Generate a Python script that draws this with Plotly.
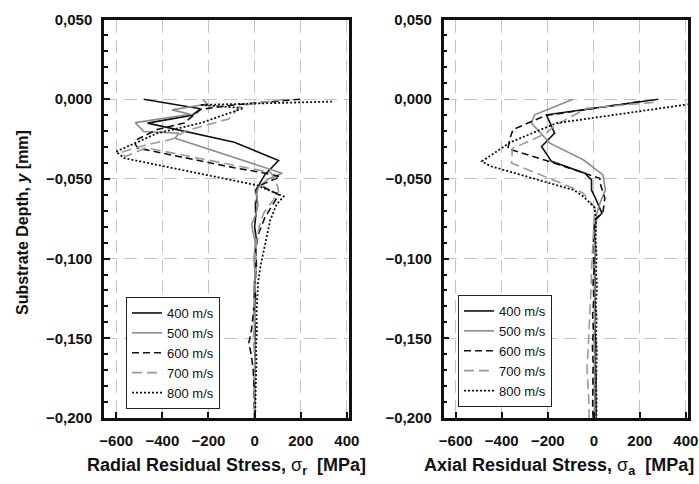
import plotly.graph_objects as go

# ---- Radial residual stress profiles (depth in mm, stress in MPa) ----
r400_depth = [0, -0.006, -0.010, -0.015, -0.027, -0.0385, -0.047, -0.053, -0.057, -0.062, -0.066,
              -0.072, -0.080, -0.088, -0.095, -0.105, -0.115, -0.125, -0.135, -0.145, -0.155,
              -0.165, -0.175, -0.185, -0.195, -0.200]
r400_stress = [-481, -235, -270, -464, -88, 104, 46, 22, 5, 10, 4, 6, 0, 8, 3, 5, 0, 4, -2, 3, 0,
               2, -1, 1, 0, 0]

r500_depth = [0, -0.003, -0.0067, -0.0094, -0.0147, -0.0203, -0.0213, -0.0245, -0.0464, -0.050,
              -0.055, -0.060, -0.066, -0.072, -0.078, -0.083, -0.090, -0.100, -0.110, -0.120,
              -0.130, -0.140, -0.150, -0.160, -0.170, -0.180, -0.190, -0.200]
r500_stress = [-225, -205, -358, -279, -517, -481, -330, -344, 119, 60, 17, 8, 15, 6, -12, -8, 4,
               -3, 2, -4, 3, -1, 0, 2, -1, 1, 0, 0]

r600_depth = [0, -0.0036, -0.0063, -0.0149, -0.019, -0.025, -0.0275, -0.0307, -0.043, -0.0464,
              -0.0486, -0.054, -0.060, -0.066, -0.074, -0.085, -0.095, -0.105, -0.115, -0.125,
              -0.135, -0.145, -0.153, -0.160, -0.170, -0.180, -0.190, -0.200]
r600_stress = [198, -88, -232, -305, -422, -507, -520, -507, -88, 46, 111, 25, 105, 80, 45, 15, 5,
               8, 3, 0, -6, -14, -25, -15, -6, -3, 0, 0]

r700_depth = [0, -0.004, -0.0125, -0.014, -0.020, -0.025, -0.029, -0.0335, -0.036, -0.0305, -0.046,
              -0.052, -0.058, -0.063, -0.0715, -0.080, -0.090, -0.100, -0.110, -0.120, -0.130,
              -0.140, -0.150, -0.160, -0.170, -0.180, -0.190, -0.200]
r700_stress = [130, -60, -113, -156, -300, -357, -478, -582, -560, -470, 70, 95, 104, 82, 39, 20, 8,
               2, 6, 0, -4, 2, -6, 0, 3, -2, 0, 1]

r800_depth = [-0.0015, -0.0036, -0.0056, -0.015, -0.0213, -0.0329, -0.037, -0.054, -0.061, -0.066,
              -0.0757, -0.085, -0.0966, -0.105, -0.115, -0.125, -0.135, -0.145, -0.155, -0.165,
              -0.175, -0.185, -0.195, -0.200]
r800_stress = [336, -235, -48, -235, -421, -601, -565, 10, 126, 95, 68, 55, 39, 25, 15, 12, 8, 10,
               6, 8, 5, 4, 3, 2]

# ---- Axial residual stress profiles ----
a400_depth = [0, -0.0098, -0.0213, -0.0297, -0.039, -0.0464, -0.0506, -0.057, -0.063, -0.0715,
              -0.0757, -0.085, -0.095, -0.105, -0.115, -0.125, -0.135, -0.145, -0.155, -0.165,
              -0.175, -0.185, -0.195, -0.200]
a400_stress = [280, -206, -170, -227, -184, -39, -10, -10, 10, 35, 8, 4, 8, 2, 6, 4, 8, 5, 9, 6, 10,
               8, 10, 9]

a500_depth = [0, -0.0098, -0.015, -0.0213, -0.0276, -0.038, -0.0475, -0.057, -0.064, -0.072, -0.080,
              -0.090, -0.100, -0.110, -0.120, -0.130, -0.140, -0.150, -0.160, -0.170, -0.180,
              -0.190, -0.200]
a500_stress = [-90, -257, -271, -232, -191, -46, 40, 50, 30, 12, 8, 4, 6, 2, 5, 3, 6, 2, 4, 3, 5, 4, 5]

a600_depth = [-0.0015, -0.0103, -0.019, -0.025, -0.031, -0.040, -0.0496, -0.054, -0.062, -0.0705,
              -0.076, -0.085, -0.095, -0.105, -0.115, -0.125, -0.135, -0.145, -0.155, -0.165,
              -0.175, -0.185, -0.195, -0.200]
a600_stress = [200, -210, -351, -365, -373, -174, 26, 30, 48, 40, 4, 0, -4, 2, -3, 0, -5, -2, -6, -3,
               -4, -2, -5, -3]

a700_depth = [-0.002, -0.0057, -0.017, -0.021, -0.0255, -0.031, -0.038, -0.040, -0.056, -0.059,
              -0.068, -0.078, -0.088, -0.098, -0.108, -0.118, -0.128, -0.138, -0.148, -0.158,
              -0.168, -0.178, -0.188, -0.200]
a700_stress = [260, -32, -174, -203, -268, -355, -355, -358, -87, -46, 4, 0, -5, -8, -10, -12, -15,
               -18, -20, -25, -30, -25, -22, -20]

a800_depth = [-0.0028, -0.015, -0.027, -0.039, -0.042, -0.057, -0.061, -0.068, -0.078, -0.088,
              -0.098, -0.108, -0.118, -0.128, -0.138, -0.148, -0.158, -0.168, -0.178, -0.188,
              -0.200]
a800_stress = [430, -162, -362, -486, -449, -87, -46, 4, 10, 8, 12, 10, 14, 9, 12, 10, 13, 11, 10,
               12, 11]

speeds = ["400 m/s", "500 m/s", "600 m/s", "700 m/s", "800 m/s"]
x_ticks = [-600, -400, -200, 0, 200, 400]
y_ticks = [0.05, 0.0, -0.05, -0.1, -0.15, -0.2]

radial = [(r400_stress, r400_depth), (r500_stress, r500_depth), (r600_stress, r600_depth),
          (r700_stress, r700_depth), (r800_stress, r800_depth)]
axial = [(a400_stress, a400_depth), (a500_stress, a500_depth), (a600_stress, a600_depth),
         (a700_stress, a700_depth), (a800_stress, a800_depth)]

styles = [
    dict(color="#111111", width=1.6, dash="solid"),
    dict(color="#8c8c8c", width=1.6, dash="solid"),
    dict(color="#111111", width=1.6, dash="7px,4px"),
    dict(color="#9a9a9a", width=1.6, dash="10px,5px"),
    dict(color="#111111", width=1.8, dash="2px,2px"),
]

FONT = "Liberation Sans, Arial, sans-serif"

fig = go.Figure()
for (xs, ys), name, st in zip(radial, speeds, styles):
    fig.add_trace(go.Scatter(x=xs, y=ys, mode="lines", name=name, line=st,
                             xaxis="x", yaxis="y", legend="legend"))
for (xs, ys), name, st in zip(axial, speeds, styles):
    fig.add_trace(go.Scatter(x=xs, y=ys, mode="lines", name=name, line=st,
                             xaxis="x2", yaxis="y2", legend="legend2"))

W, H = 699, 484
y_dom = [1 - 418 / H, 1 - 19.5 / H]


def xaxis_cfg(left, right):
    return dict(
        domain=[left / W, right / W], range=[-653, 407], automargin=False,
        tickvals=x_ticks, ticks="inside", ticklen=6, tickwidth=1.5, tickcolor="#111",
        showline=True, linewidth=2.5, linecolor="#111", mirror=True,
        showgrid=True, gridcolor="#c4c4c4", gridwidth=1.2, griddash="13px,7px",
        zeroline=False, ticklabelstandoff=7,
        tickfont=dict(family=FONT, size=15, color="#111", weight="bold"),
    )


def yaxis_cfg(anchor):
    return dict(
        domain=y_dom, range=[-0.2, 0.05], anchor=anchor, automargin=False,
        tickvals=y_ticks, tickformat=".3f", ticks="inside", ticklen=6, tickwidth=1.5,
        tickcolor="#111",
        minor=dict(dtick=0.01, ticks="inside", ticklen=4, tickcolor="#111", showgrid=False),
        showline=True, linewidth=2.5, linecolor="#111", mirror=True,
        showgrid=True, gridcolor="#c4c4c4", gridwidth=1.2, griddash="13px,7px",
        zeroline=False, ticklabelstandoff=6,
        tickfont=dict(family=FONT, size=15, color="#111", weight="bold"),
    )


legend_cfg = dict(
    bgcolor="white", bordercolor="#222", borderwidth=1,
    font=dict(family=FONT, size=13, color="#111"),
    xanchor="left", yanchor="top", tracegroupgap=0,
)

fig.update_layout(
    width=W, height=H, margin=dict(l=0, r=0, t=0, b=0, autoexpand=False),
    paper_bgcolor="white", plot_bgcolor="white",
    separators=",.",
    showlegend=True,
    xaxis=xaxis_cfg(104, 348.5),
    yaxis=yaxis_cfg("x"),
    xaxis2=xaxis_cfg(443.5, 687.5),
    yaxis2=yaxis_cfg("x2"),
    legend=dict(legend_cfg, x=126 / W, y=1 - 297 / H),
    legend2=dict(legend_cfg, x=458 / W, y=1 - 295 / H),
)
fig.update_layout(xaxis2_anchor="y2", xaxis_anchor="y")

xtitle_font = dict(family=FONT, size=18, color="#111")
fig.add_annotation(
    text="<b>Radial Residual Stress, </b>σ<sub><b>r</b></sub><b>\u00a0 [MPa]</b>",
    xref="paper", yref="paper", x=227 / W, y=1 - 466 / H, xanchor="center", yanchor="middle",
    showarrow=False, font=xtitle_font,
)
fig.add_annotation(
    text="<b>Axial Residual Stress, </b>σ<sub><b>a</b></sub><b>\u00a0 [MPa]</b>",
    xref="paper", yref="paper", x=559 / W, y=1 - 466 / H, xanchor="center", yanchor="middle",
    showarrow=False, font=xtitle_font,
)
fig.add_annotation(
    text="<b>Substrate Depth, <i>y</i> [mm]</b>",
    xref="paper", yref="paper", x=22 / W, y=1 - 223 / H, xanchor="center", yanchor="middle",
    textangle=-90, showarrow=False, font=dict(family=FONT, size=16, color="#111"),
)

fig.write_html("out.html")
